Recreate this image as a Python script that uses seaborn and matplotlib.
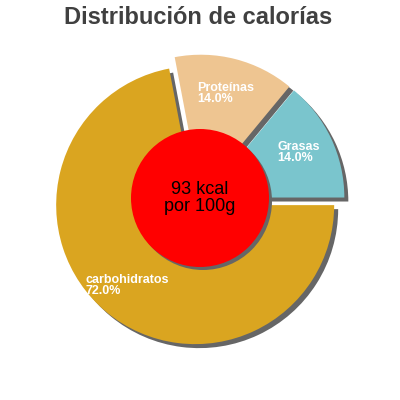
import matplotlib
matplotlib.use('Agg')
import matplotlib.pyplot as plt
import seaborn as sns

# Data
nutrients = ['Grasas', 'Proteínas', 'carbohidratos']
shares = [14.0, 14.0, 72.0]
slice_colors = ['#7AC5CD', '#EEC591', '#DAA520']
kcal_text = '93 kcal\npor 100g'
title = 'Distribución de calorías'

sns.set_theme(style='white')
plt.rcParams['font.family'] = ['Liberation Sans', 'DejaVu Sans']

fig = plt.figure(figsize=(4, 4), dpi=100)
ax = fig.add_axes([0, 0, 1, 1])

# pixel-like coordinates, y going up
cx, cy, r = 199, 400 - 200.5, 139
# explode is in data units (pixels here)
explode = [7, 7, 6]
wp = {'linewidth': 0}
sh = 4  # shadow offset

# shadow first, then the real wedges
ax.pie(shares, colors=['#666666'] * 3, explode=explode, startangle=0,
       counterclock=True, radius=r, center=(cx + sh, cy - sh), frame=True,
       wedgeprops=wp)
ax.pie(shares, colors=slice_colors, explode=explode, startangle=0,
       counterclock=True, radius=r, center=(cx, cy), frame=True,
       wedgeprops=wp)

# labels inside slices
label_pos = [(277, 141), (197, 82), (86, 274)]
for name, val, (px, py) in zip(nutrients, shares, label_pos):
    ax.text(px, 400 - py, f'{name}\n{val:.1f}%', color='white', fontsize=9,
            fontweight='bold', ha='left', va='top', linespacing=0.9, zorder=6)

# center circle
ax.add_patch(plt.Circle((200 + 3, 400 - 198 - 3), 69, color='#666666',
                        zorder=3, linewidth=0))
ax.add_patch(plt.Circle((200, 400 - 198), 69, color='#FF0000', zorder=4,
                        linewidth=0))
ax.text(200, 400 - 198, kcal_text, ha='center', va='center', fontsize=13,
        color='black', zorder=5, linespacing=1.0)

ax.text(198, 400 - 17, title, ha='center', va='center', fontsize=17,
        fontweight='bold', color='#404040')

ax.set_xlim(0, 400)
ax.set_ylim(0, 400)
ax.set_aspect('equal')
ax.axis('off')

fig.savefig('out.png', dpi=100)
